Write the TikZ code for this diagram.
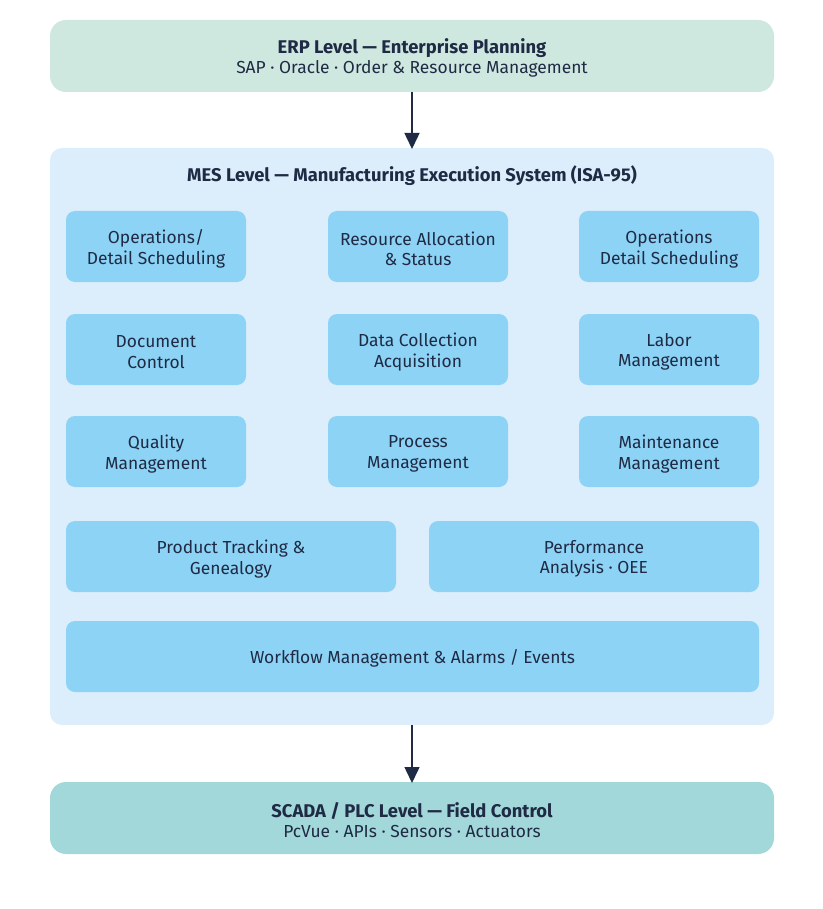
\documentclass[tikz,border=0pt]{standalone}
\usepackage{fontspec}
\setmainfont{Fira Sans}
\usetikzlibrary{arrows.meta}
\definecolor{erpfill}{HTML}{CFE8DF}
\definecolor{mesfill}{HTML}{DCEEFB}
\definecolor{modfill}{HTML}{8DD3F5}
\definecolor{scadafill}{HTML}{A3D8DA}
\definecolor{ink}{HTML}{1F2A44}
\newcommand\ttl[1]{{\fontsize{18.4}{20.5}\selectfont\textbf{#1}}}
\tikzset{
  level/.style={rounded corners=16pt, fill=#1, draw=none},
  modbox/.style={rounded corners=9pt, fill=modfill, draw=none},
  lbl/.style={text=ink, align=center, font=\fontsize{17.4}{20.5}\selectfont},
  conn/.style={draw=ink, line width=1.5pt, -{Triangle[width=15pt,length=16pt]}}
}
\begin{document}
\begin{tikzpicture}[x=1pt,y=-1pt]
\useasboundingbox (0,0) rectangle (822,909);
% levels
\path[level=erpfill] (50,20) rectangle (774,92);
\node[lbl] (erp) at (412,58) {\ttl{ERP Level — Enterprise Planning}\\SAP · Oracle · Order \& Resource Management};
\path[level=mesfill, rounded corners=12pt] (50,148) rectangle (774,725);
\node[lbl] (mes) at (412,176) {\ttl{MES Level — Manufacturing Execution System (ISA-95)}};
\path[level=scadafill] (50,782) rectangle (774,854);
\node[lbl] (scada) at (412,820) {\ttl{SCADA / PLC Level — Field Control}\\PcVue · APIs · Sensors · Actuators};
\coordinate (erpb) at (412,92);
\coordinate (mest) at (412,149);
\coordinate (mesb) at (412,725);
\coordinate (scadat) at (412,783);
\draw[conn] (erpb) -- (mest);
\draw[conn] (mesb) -- (scadat);
% modules row 1
\path[modbox] (66,211) rectangle (246,282);
\node[lbl] (m1) at (156,249) {Operations/\\Detail Scheduling};
\path[modbox] (328,211) rectangle (508,282);
\node[lbl] (m2) at (418,249) {Resource Allocation\\\& Status};
\path[modbox] (579,211) rectangle (759,282);
\node[lbl] (m3) at (669,249) {Operations\\Detail Scheduling};
% row 2
\path[modbox] (66,314) rectangle (246,385);
\node[lbl] (m4) at (156,352) {Document\\Control};
\path[modbox] (328,314) rectangle (508,385);
\node[lbl] (m5) at (418,352) {Data Collection\\Acquisition};
\path[modbox] (579,314) rectangle (759,385);
\node[lbl] (m6) at (669,352) {Labor\\Management};
% row 3
\path[modbox] (66,416) rectangle (246,487);
\node[lbl] (m7) at (156,454) {Quality\\Management};
\path[modbox] (328,416) rectangle (508,487);
\node[lbl] (m8) at (418,454) {Process\\Management};
\path[modbox] (579,416) rectangle (759,487);
\node[lbl] (m9) at (669,454) {Maintenance\\Management};
% row 4
\path[modbox] (66,521) rectangle (396,592);
\node[lbl] (m10) at (231,559) {Product Tracking \&\\Genealogy};
\path[modbox] (429,521) rectangle (759,592);
\node[lbl] (m11) at (594,559) {Performance\\Analysis · OEE};
% row 5
\path[modbox] (66,621) rectangle (759,692);
\node[lbl] (m12) at (412.5,658) {Workflow Management \& Alarms / Events};
\end{tikzpicture}
\end{document}
